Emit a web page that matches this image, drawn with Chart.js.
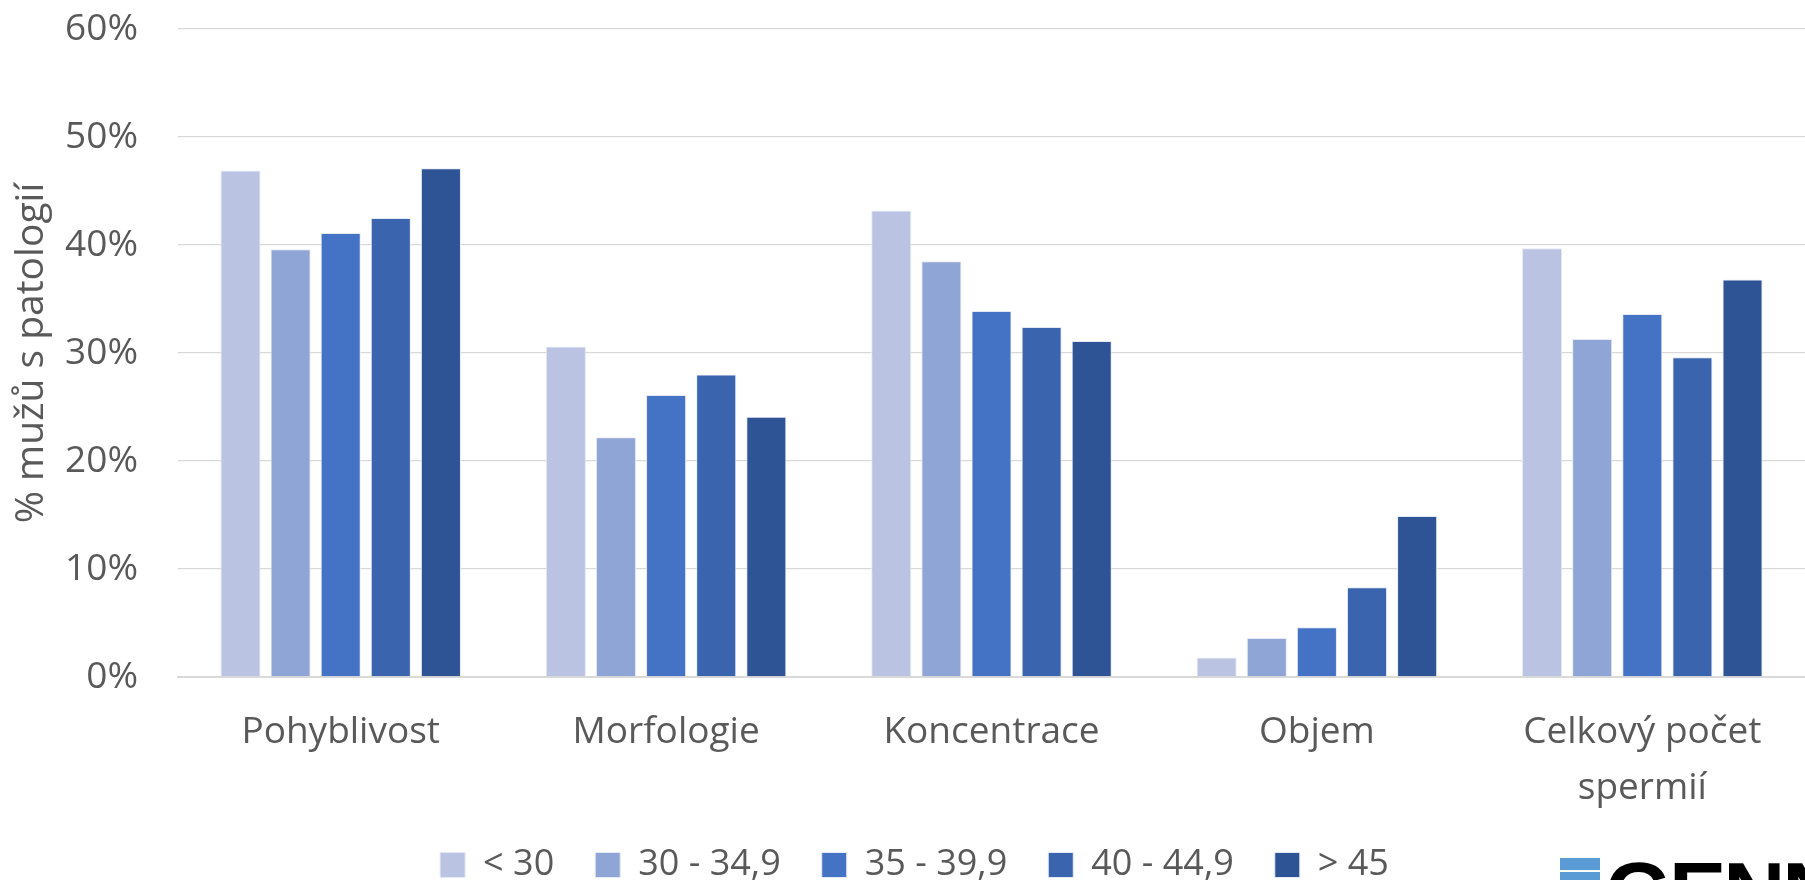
<!DOCTYPE html>
<html>
<head>
<meta charset="utf-8">
<script src="https://cdn.jsdelivr.net/npm/chart.js@4"></script>
<style>
  html, body { margin: 0; padding: 0; background: #fff; overflow: hidden; }
  #wrap { position: relative; width: 1805px; height: 880px; }
  #logo { position: absolute; left: 1560px; top: 857px; height: 40px; overflow: visible; white-space: nowrap; }
  #logo .bar { position: absolute; left: 0; top: 1px; width: 40px; height: 12px; background: #5B9BD5; }
  #logo .bar2 { position: absolute; left: 0; top: 15px; width: 40px; height: 12px; background: #5B9BD5; }
  #logo .txt { position: absolute; left: 45px; top: -14px; font: bold 86px "Liberation Sans", Arial, sans-serif; color: #000; letter-spacing: -3px; }
</style>
</head>
<body>
<div id="wrap">
  <canvas id="graf" width="1805" height="880"></canvas>
  <div id="logo"><div class="bar"></div><div class="bar2"></div><div class="txt">GENNET</div></div>
</div>
<script>
// --- Data ---
const categories = ['Pohyblivost', 'Morfologie', 'Koncentrace', 'Objem', ['Celkový počet', 'spermií']];
const ageGroups  = ['< 30', '30 - 34,9', '35 - 39,9', '40 - 44,9', '> 45'];
const under30    = [46.9, 30.6, 43.2, 1.8, 39.7];
const age30_35   = [39.6, 22.2, 38.5, 3.6, 31.3];
const age35_40   = [41.1, 26.1, 33.9, 4.6, 33.6];
const age40_45   = [42.5, 28.0, 32.4, 8.3, 29.6];
const over45     = [47.1, 24.1, 31.1, 14.9, 36.8];
const yTicks     = [0, 10, 20, 30, 40, 50, 60];

const colors = ['#BAC4E2', '#8FA5D6', '#4472C4', '#3A64AE', '#2F5496'];
const series = [under30, age30_35, age35_40, age40_45, over45];

const FONT = '"Open Sans", "Noto Sans", sans-serif';
const GREY = '#595959';

// legenda: menší výška pro layout, pak posunout nahoru (kreslí se přes spodek osy x)
const legendFit = {
  id: 'legendFit',
  beforeLayout(chart) {
    const lg = chart.legend;
    if (lg && !lg._patched) {
      const orig = lg.fit;
      lg.fit = function () { orig.call(this); this.height = 63; };
      lg._patched = true;
    }
  },
  afterLayout(chart) {
    const lg = chart.legend;
    lg.top = 806;
    lg.bottom = chart.height;
    lg.height = lg.bottom - lg.top;
    lg.left += 12;
    lg.right += 12;
  }
};

new Chart(document.getElementById('graf').getContext('2d'), {
  type: 'bar',
  data: {
    labels: categories,
    datasets: series.map((values, i) => ({
      label: ageGroups[i],
      data: values,
      backgroundColor: colors[i],
      borderColor: '#E4E9F5',
      borderWidth: 1,
      categoryPercentage: 0.77,
      barPercentage: 0.8
    }))
  },
  plugins: [legendFit],
  options: {
    responsive: false,
    animation: false,
    devicePixelRatio: 1,
    layout: { padding: { top: 29, right: 0, left: 0, bottom: 0 } },
    plugins: {
      tooltip: { enabled: false },
      legend: {
        position: 'bottom',
        labels: {
          font: { family: FONT, size: 36 },
          color: GREY,
          boxWidth: 25,
          boxHeight: 25,
          padding: 41
        }
      }
    },
    scales: {
      x: {
        grid: { display: false, drawTicks: false },
        border: { display: true, color: '#D9D9D9', width: 2 },
        ticks: { font: { family: FONT, size: 37, lineHeight: 1.5 }, color: GREY, padding: 28, maxRotation: 0 },
        afterFit: s => { s.height = 140; }
      },
      y: {
        min: 0, max: 60,
        afterBuildTicks: s => { s.ticks = yTicks.map(v => ({ value: v })); },
        grid: { color: '#D9D9D9', lineWidth: 1.3, drawTicks: false },
        border: { display: false },
        ticks: { font: { family: FONT, size: 37 }, color: GREY, padding: 40, callback: v => v + '%' },
        title: { display: true, text: '% mužů s patologií', font: { family: FONT, size: 39 }, color: GREY, padding: { top: 8, bottom: 0 } },
        afterFit: s => { s.width = 178; s.paddingTop = 0; s.paddingBottom = 0; }
      }
    }
  }
});
</script>
</body>
</html>
